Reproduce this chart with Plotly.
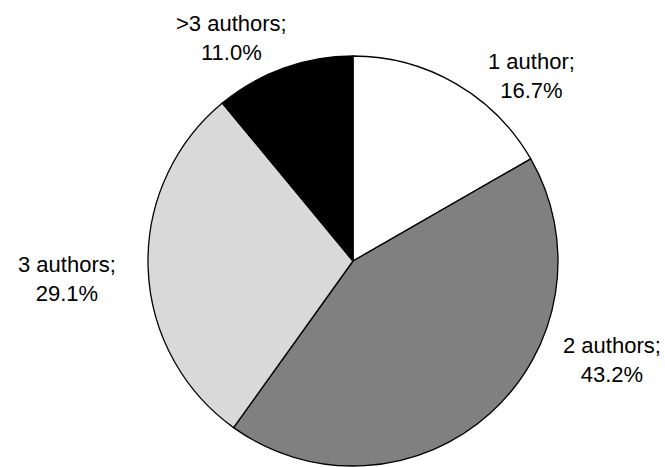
import plotly.graph_objects as go

labels = ["1 author", "2 authors", "3 authors", ">3 authors"]
values = [16.7, 43.2, 29.1, 11.0]
colors = ["#ffffff", "#808080", "#d9d9d9", "#000000"]
# label block centres in window pixels (x, y from top)
label_pos = [(531, 76), (612, 360), (67, 279), (231, 38)]

W, H = 665, 467
cx, cy, r = 353, 261, 205

fig = go.Figure(go.Pie(
    labels=labels,
    values=values,
    sort=False,
    direction="clockwise",
    rotation=0,
    marker=dict(colors=colors, line=dict(color="#000000", width=1.3)),
    textinfo="none",
    hoverinfo="label+percent",
    showlegend=False,
    domain=dict(x=[(cx - r) / W, (cx + r) / W], y=[(H - cy - r) / H, (H - cy + r) / H]),
))

for lab, v, (px, py) in zip(labels, values, label_pos):
    fig.add_annotation(
        x=px / W, y=1 - py / H, xref="paper", yref="paper",
        text=f"{lab};<br>{v:.1f}%", showarrow=False,
        xanchor="center", yanchor="middle", align="center",
        font=dict(family="Liberation Sans, Arial, sans-serif", size=22, color="#000000"),
    )

fig.update_layout(
    width=W, height=H,
    margin=dict(l=0, r=0, t=0, b=0),
    paper_bgcolor="#ffffff",
    plot_bgcolor="#ffffff",
)

fig.write_html(
    "out.html",
    config={"displayModeBar": False},
    post_script="document.body.style.margin='0';document.body.style.overflow='hidden';",
)
